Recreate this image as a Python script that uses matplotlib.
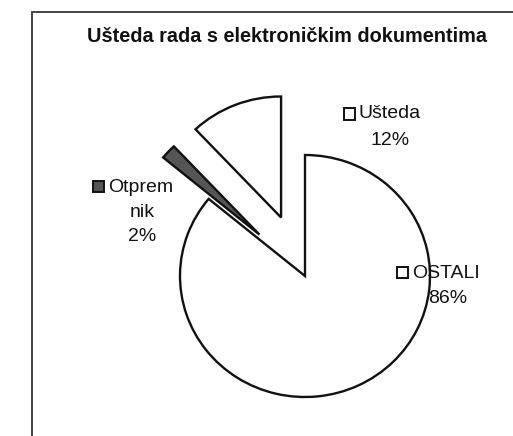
import matplotlib
matplotlib.use("Agg")
import matplotlib.pyplot as plt
from matplotlib.patches import Rectangle

# ---- data ----
categories = ["OSTALI", "Otpremnik", "Ušteda"]
display_names = ["OSTALI", "Otprem\nnik", "Ušteda"]
values = [86, 2, 12]
colors = ["#ffffff", "#555555", "#ffffff"]
title = "Ušteda rada s elektroničkim dokumentima"

W, H = 513, 436
plt.rcParams["font.family"] = ["Liberation Sans", "DejaVu Sans"]

fig = plt.figure(figsize=(W / 100, H / 100), dpi=100)
fig.patch.set_facecolor("white")

# pie geometry (pixels): centre and radii (scan is slightly wider than tall)
cx, cy, Rx, Ry = 305, 276, 125, 121
ax = fig.add_axes([0, 0, 1, 1])
wedges, _ = ax.pie(values, colors=colors, startangle=90, counterclock=False,
                   explode=[0, 0.5, 0.52], radius=1,
                   wedgeprops=dict(edgecolor="#111111", linewidth=1.7))
ax.set_xlim(-cx / Rx, (W - cx) / Rx)
ax.set_ylim(-(H - cy) / Ry, cy / Ry)
ax.set_aspect("auto")
ax.axis("off")

def fx(px):
    return px / W

def fy(py):
    return 1 - py / H

# frame
fig.add_artist(Rectangle((fx(32), -0.1), 1.2, fy(12) + 0.1, transform=fig.transFigure,
                         fill=False, edgecolor="#444444", linewidth=1.4, zorder=0))

# title
fig.text(fx(287), fy(36), title, ha="center", va="center", fontsize=14.3,
         fontweight="bold", color="#111111")

# data labels (pixel centres of each text line)
label_pos = {
    "OSTALI": [(446, 273), (448, 298)],
    "Otpremnik": [(141, 187), (142, 212), (142, 236)],
    "Ušteda": [(390, 114), (390, 140)],
}

fig.canvas.draw()
renderer = fig.canvas.get_renderer()
for cat, name, val, col in zip(categories, display_names, values, colors):
    lines = name.split("\n") + [f"{val}%"]
    first = None
    for (px, py), line in zip(label_pos[cat], lines):
        t = fig.text(fx(px), fy(py), line, ha="center", va="center",
                     fontsize=14, color="#111111")
        if first is None:
            first = t
    bb = first.get_window_extent(renderer)
    s = 11
    x0 = bb.x0 - 4 - s
    ymid = fy(label_pos[cat][0][1]) * H
    fig.add_artist(Rectangle((x0 / W, (ymid - s / 2) / H), s / W, s / H,
                             transform=fig.transFigure, facecolor=col,
                             edgecolor="#111111", linewidth=1.4))

fig.savefig("out.png", dpi=100)
